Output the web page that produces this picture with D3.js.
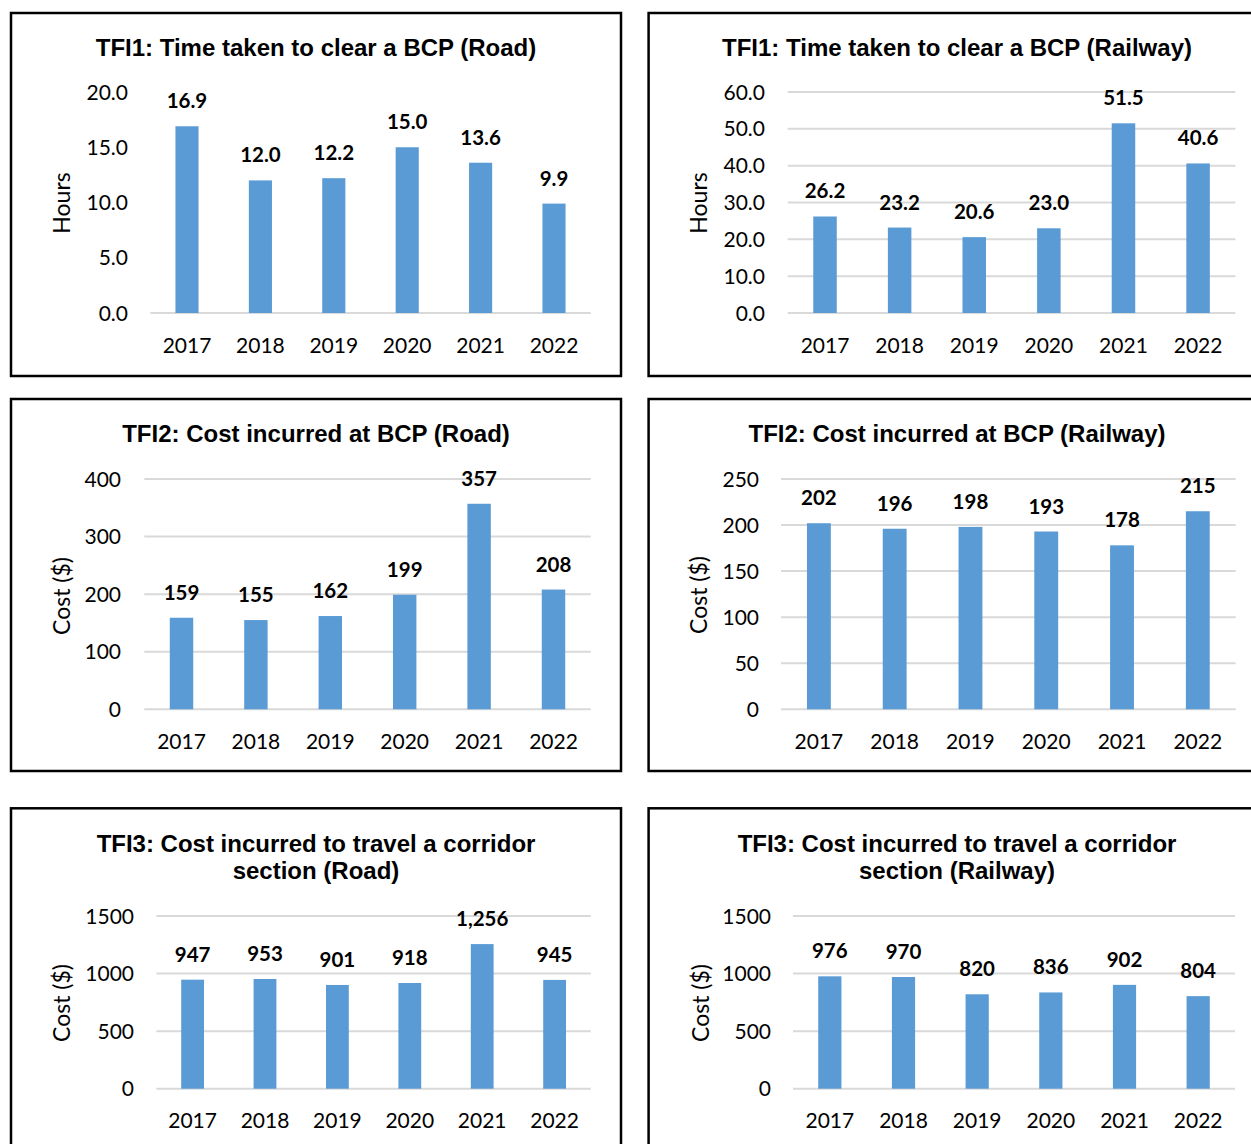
<!DOCTYPE html>
<html>
<head>
<meta charset="utf-8">
<script src="https://cdn.jsdelivr.net/npm/d3@7"></script>
<style>
  html, body { margin: 0; padding: 0; background: #fff; }
  svg { display: block; }
</style>
</head>
<body>
<svg id="chart" width="1251" height="1144"></svg>
<script>
// Categories shared by all six panels
const years = ["2017", "2018", "2019", "2020", "2021", "2022"];

// Series values
const roadHours        = [16.9, 12.0, 12.2, 15.0, 13.6, 9.9];
const railHours        = [26.2, 23.2, 20.6, 23.0, 51.5, 40.6];
const roadBcpCost      = [159, 155, 162, 199, 357, 208];
const railBcpCost      = [202, 196, 198, 193, 178, 215];
const roadCorridorCost = [947, 953, 901, 918, 1256, 945];
const railCorridorCost = [976, 970, 820, 836, 902, 804];

// Tick values for each value axis
const ticksRoadHours    = [0, 5, 10, 15, 20];
const ticksRailHours    = [0, 10, 20, 30, 40, 50, 60];
const ticksRoadBcp      = [0, 100, 200, 300, 400];
const ticksRailBcp      = [0, 50, 100, 150, 200, 250];
const ticksCorridor     = [0, 500, 1000, 1500];

// Titles and axis titles
const titles = [
  ["TFI1: Time taken to clear a BCP (Road)"],
  ["TFI1: Time taken to clear a BCP (Railway)"],
  ["TFI2: Cost incurred at BCP (Road)"],
  ["TFI2: Cost incurred at BCP (Railway)"],
  ["TFI3: Cost incurred to travel a corridor", "section (Road)"],
  ["TFI3: Cost incurred to travel a corridor", "section (Railway)"]
];
const axisTitles = ["Hours", "Hours", "Cost ($)", "Cost ($)", "Cost ($)", "Cost ($)"];

const fmt1 = d3.format(".1f");
const fmtInt = d3.format("d");
const fmtComma = d3.format(",");

const panels = [
  { values: roadHours, ticks: ticksRoadHours, tickFmt: fmt1, labelFmt: fmt1, grid: false,
    box: [11, 13, 610, 363], xr: [150.3, 590.7], yr: [313, 92],
    tickX: 128, axisT: [62, 203], titleXY: [316, 47], xLabY: 345 },
  { values: railHours, ticks: ticksRailHours, tickFmt: fmt1, labelFmt: fmt1, grid: true,
    box: [648.6, 13, 620, 363], xr: [787.7, 1235.4], yr: [313, 92],
    tickX: 765, axisT: [699, 203], titleXY: [957, 47], xLabY: 345 },
  { values: roadBcpCost, ticks: ticksRoadBcp, tickFmt: fmtInt, labelFmt: fmtComma, grid: true,
    box: [11, 399, 610, 372], xr: [144.3, 590.7], yr: [709.3, 479],
    tickX: 121, axisT: [62, 596], titleXY: [316, 433], xLabY: 741 },
  { values: railBcpCost, ticks: ticksRailBcp, tickFmt: fmtInt, labelFmt: fmtComma, grid: true,
    box: [648.6, 399, 620, 372], xr: [781, 1235.7], yr: [709.3, 479],
    tickX: 759, axisT: [699, 595], titleXY: [957, 433], xLabY: 741 },
  { values: roadCorridorCost, ticks: ticksCorridor, tickFmt: fmtInt, labelFmt: fmtComma, grid: true,
    box: [11, 808.3, 610, 400], xr: [156.4, 590.8], yr: [1088.7, 916],
    tickX: 134, axisT: [62, 1003], titleXY: [316, 843], xLabY: 1120 },
  { values: railCorridorCost, ticks: ticksCorridor, tickFmt: fmtInt, labelFmt: fmtComma, grid: true,
    box: [648.6, 808.3, 620, 400], xr: [793, 1235], yr: [1088.7, 916],
    tickX: 771, axisT: [701, 1003], titleXY: [957, 843], xLabY: 1120 }
];

const svg = d3.select("#chart");
const barColor = "#5b9bd5";
const gridColor = "#d9d9d9";
const labelFont = "Lato, 'Open Sans', sans-serif";
const titleFont = "'Liberation Sans', Arial, sans-serif";

panels.forEach((p, i) => {
  const g = svg.append("g");

  // frame
  g.append("rect")
    .attr("x", p.box[0]).attr("y", p.box[1])
    .attr("width", p.box[2]).attr("height", p.box[3])
    .attr("fill", "none").attr("stroke", "#000").attr("stroke-width", 2.5);

  const domainMax = p.ticks[p.ticks.length - 1];
  const x = d3.scaleBand().domain(years).range(p.xr).paddingInner(0.685).paddingOuter(0.3425);
  const y = d3.scaleLinear().domain([0, domainMax]).range(p.yr);

  // gridlines (or baseline only)
  const gridVals = p.grid ? p.ticks : [0];
  g.selectAll("line.grid").data(gridVals).join("line")
    .attr("class", "grid")
    .attr("x1", p.xr[0]).attr("x2", p.xr[1])
    .attr("y1", d => y(d)).attr("y2", d => y(d))
    .attr("stroke", gridColor).attr("stroke-width", 2);

  // value-axis tick labels
  g.selectAll("text.ytick").data(p.ticks).join("text")
    .attr("class", "ytick")
    .attr("x", p.tickX).attr("y", d => y(d)).attr("dy", "0.36em")
    .attr("text-anchor", "end")
    .style("font-family", labelFont).style("font-size", "21px").attr("fill", "#000")
    .text(d => p.tickFmt(d));

  // category labels
  g.selectAll("text.xtick").data(years).join("text")
    .attr("class", "xtick")
    .attr("x", d => x(d) + x.bandwidth() / 2).attr("y", p.xLabY).attr("dy", "0.36em")
    .attr("text-anchor", "middle")
    .style("font-family", labelFont).style("font-size", "21px").attr("fill", "#000")
    .text(d => d);

  const rows = years.map((yr, k) => ({ year: yr, value: p.values[k] }));

  // bars
  g.selectAll("rect.bar").data(rows).join("rect")
    .attr("class", "bar")
    .attr("x", d => x(d.year)).attr("width", x.bandwidth())
    .attr("y", d => y(d.value)).attr("height", d => y(0) - y(d.value))
    .attr("fill", barColor);

  // data labels
  g.selectAll("text.val").data(rows).join("text")
    .attr("class", "val")
    .attr("x", d => x(d.year) + x.bandwidth() / 2)
    .attr("y", d => y(d.value) - 18)
    .attr("text-anchor", "middle")
    .style("font-family", labelFont).style("font-size", "20.5px").style("font-weight", "bold")
    .attr("fill", "#000")
    .text(d => p.labelFmt(d.value));

  // axis title
  g.append("text")
    .attr("transform", `translate(${p.axisT[0]},${p.axisT[1]}) rotate(-90)`)
    .attr("text-anchor", "middle").attr("dy", "0.36em")
    .style("font-family", labelFont).style("font-size", "23px").attr("fill", "#000")
    .text(axisTitles[i]);

  // chart title
  const t = g.append("text")
    .attr("text-anchor", "middle")
    .style("font-family", titleFont).style("font-size", "24px").style("font-weight", "bold")
    .attr("fill", "#000");
  titles[i].forEach((line, k) => {
    t.append("tspan")
      .attr("x", p.titleXY[0]).attr("y", p.titleXY[1] + k * 27).attr("dy", "0.36em")
      .text(line);
  });
});
</script>
</body>
</html>
